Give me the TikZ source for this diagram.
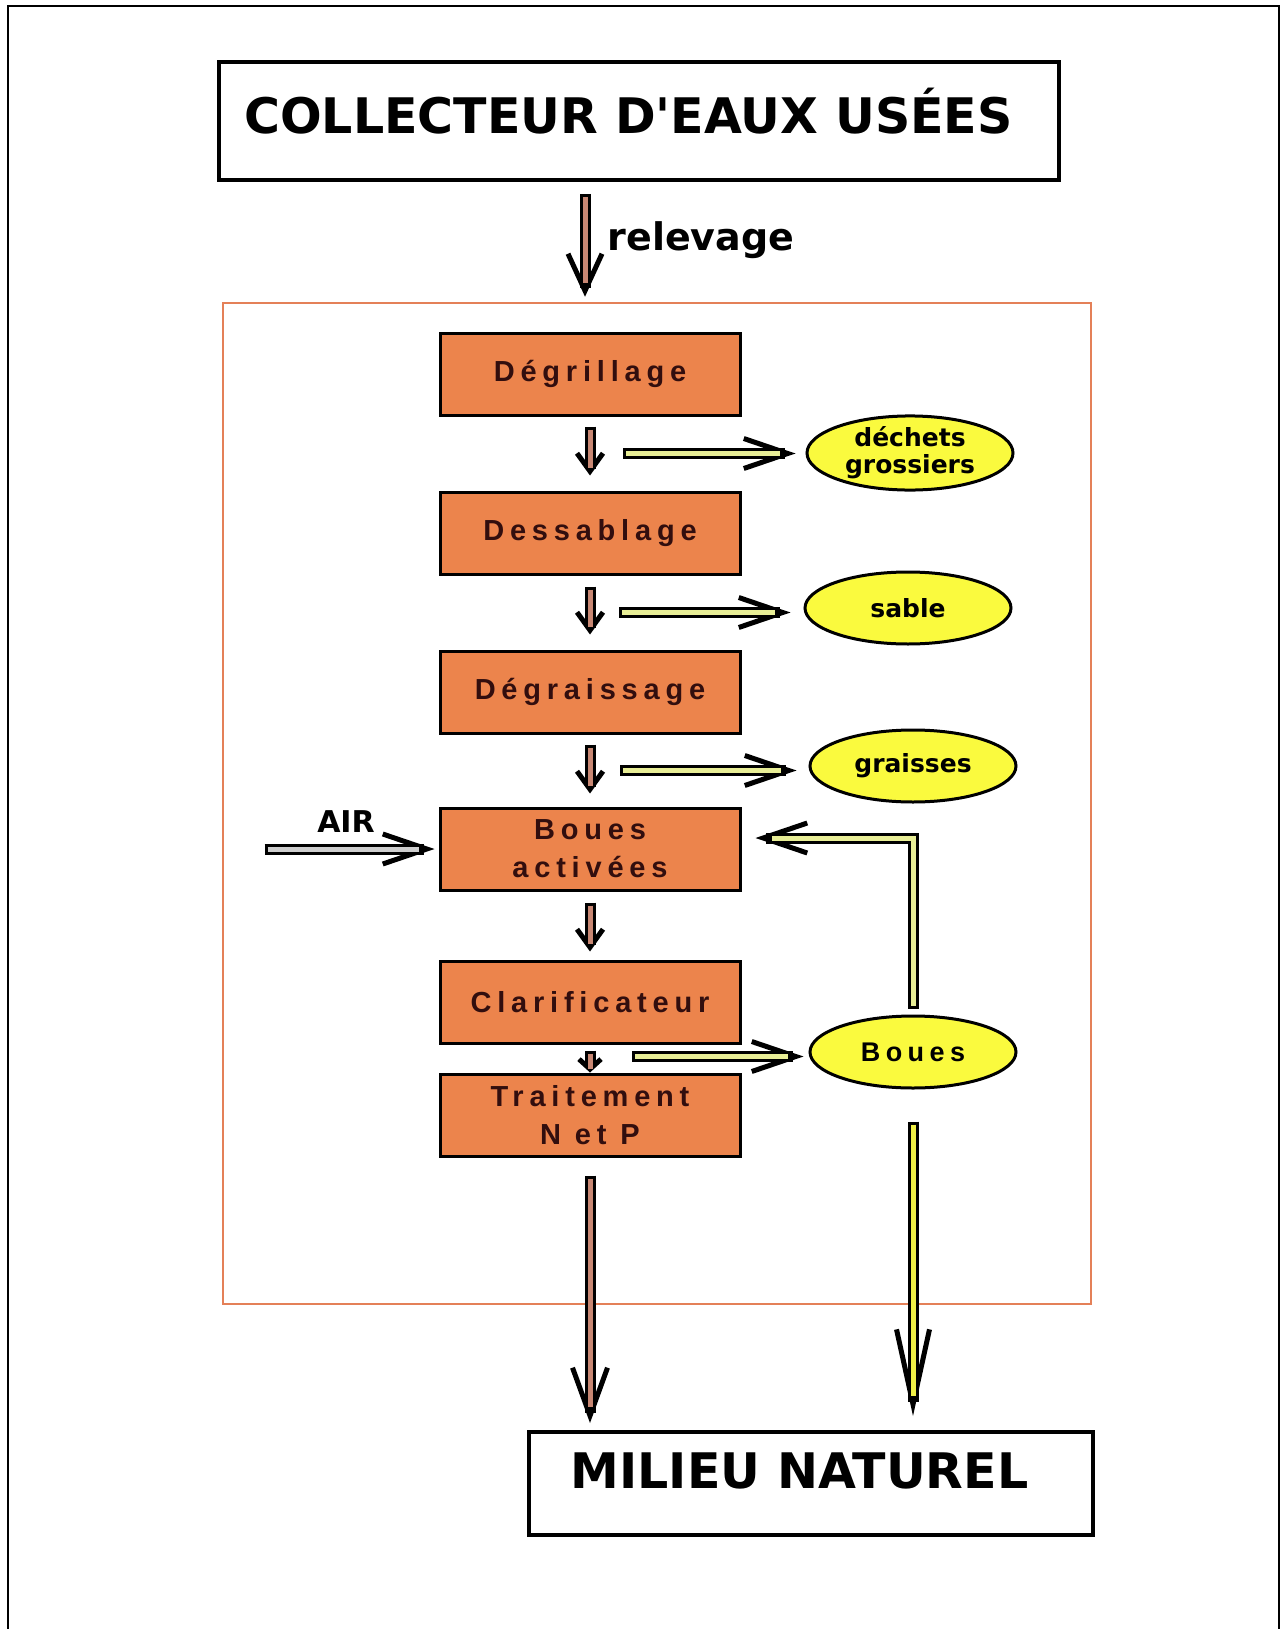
\documentclass[tikz,border=0pt]{standalone}
\usepackage{fontspec}
\setmainfont{Liberation Sans}
\newfontfamily\heavyfont{DejaVu Sans}
\newfontfamily\trackfont[LetterSpace=20]{Liberation Sans}
\usepackage{xcolor}
\usetikzlibrary{shapes.geometric, arrows.meta, positioning, calc}

\definecolor{stagefill}{RGB}{236,132,76}
\definecolor{stagetext}{RGB}{50,14,14}
\definecolor{framecol}{RGB}{228,128,88}
\definecolor{wastefill}{RGB}{250,250,62}
\definecolor{brownpipe}{RGB}{200,135,115}
\definecolor{yellowpipe}{RGB}{232,238,150}
\definecolor{brightpipe}{RGB}{240,240,70}
\definecolor{greypipe}{RGB}{205,205,205}

\begin{document}
\begin{tikzpicture}[
    x=1pt, y=-1pt,
    node distance=74pt,
    endbox/.style={rectangle, draw=black, line width=4pt, fill=white, font=\heavyfont\bfseries\fontsize{49}{50}\selectfont},
    stage/.style={rectangle, draw=black, line width=3pt, fill=stagefill, text=stagetext, minimum width=300pt, minimum height=82pt, align=center, font=\trackfont\bfseries\fontsize{29}{38}\selectfont},
    waste/.style={ellipse, draw=black, line width=3pt, fill=wastefill, minimum width=206pt, minimum height=72pt, inner sep=0pt, align=center, font=\heavyfont\bfseries\fontsize{25}{27}\selectfont},
    tag/.style={font=\heavyfont\bfseries\fontsize{#1}{#1}\selectfont},
    pipeline/.style n args={3}{draw=#1, line width=5pt, line join=miter, shorten <=3pt, shorten >=#3,
        preaction={draw=black, line width=11pt, line join=miter, shorten <=0pt, shorten >=0pt, -{Straight Barb[#2, line width=5pt]}}},
    pipe/.style={pipeline={#1}{length=44pt, width=30pt}{16pt}},
    stub/.style={pipeline={#1}{length=18pt, width=26pt}{8pt}}
]
\useasboundingbox (0,0) rectangle (1282,1629);

% Frames
\draw[line width=2pt] (8,1640) -- (8,6) -- (1279,6) -- (1279,1640);
\node (station) [rectangle, draw=framecol, line width=2.5pt, minimum width=868pt, minimum height=1001pt] at (657,803.5) {};

% Nodes
\node (collecteur) [endbox, minimum width=840pt, minimum height=118pt, text depth=20pt] at (639,121) {\hspace*{-21pt}COLLECTEUR D'EAUX USÉES};
\node (relevage) [tag=38] at (701,240) {relevage};
\node (deg) [stage] at (590,374) {Dégrillage};
\node (dess) [stage, below=of deg] {Dessablage};
\node (degr) [stage, below=of dess] {Dégraissage};
\node (act) [stage, below=72pt of degr] {Boues\\activées};
\node (clar) [stage, below=68pt of act] {Clarificateur};
\node (trait) [stage, below=28pt of clar] {Traitement\\N et P};
\node (dechets) [waste] at (910,453) {déchets\\grossiers};
\node (sable) [waste] at (908,608) {sable};
\node (graisses) [waste] at (913,766) {graisses};
\node (boues) [waste, font=\trackfont\bfseries\fontsize{27}{30}\selectfont] at (913,1052) {Boues};
\node (milieu) [endbox, minimum width=564pt, minimum height=103pt, text depth=25pt] at (811,1483.5) {\hspace*{-23pt}MILIEU NATUREL};
\node (air) [tag=30] at (346,822) {AIR};

% Side outputs
\coordinate (out1) at ($(deg.south)!0.5!(dess.north)+(33,0)$);
\coordinate (out2) at ($(dess.south)!0.5!(degr.north)+(29,0)$);
\coordinate (out3) at ($(degr.south)!0.5!(act.north)+(30,0)$);
\coordinate (out4) at ($(clar.south)!0.5!(trait.north)+(42,-2)$);

% Connections
\draw [pipeline={brownpipe}{length=37pt, width=34pt}{14pt}] ([xshift=-5pt, yshift=-12pt]collecteur.south -| deg.north) -- ([xshift=-5pt, yshift=5pt]station.north -| deg.north);
\draw [stub=brownpipe] ([yshift=-10pt]deg.south) -- ([yshift=15pt]dess.north);
\draw [stub=brownpipe] ([yshift=-11pt]dess.south) -- ([yshift=15pt]degr.north);
\draw [stub=brownpipe] ([yshift=-10pt]degr.south) -- ([yshift=13pt]act.north);
\draw [stub=brownpipe] ([yshift=-11pt]act.south) -- ([yshift=8pt]clar.north);
\draw [pipeline={brownpipe}{length=10pt, width=22pt}{4pt}] ([yshift=-6pt]clar.south) -- (trait.north);
\draw [pipe=yellowpipe] (out1) -- ($(out1 -| dechets.west)+(-10,0)$);
\draw [pipe=yellowpipe] (out2) -- ($(out2 -| sable.west)+(-13,0)$);
\draw [pipe=yellowpipe] (out3) -- ($(out3 -| graisses.west)+(-12,0)$);
\draw [pipe=yellowpipe] (out4) -- ($(out4 -| boues.west)+(-5,0)$);
\draw [pipe=greypipe] ($(act.west)+(-174,0)$) -- ($(act.west)+(-4,0)$);
\draw [pipe=yellowpipe] ([yshift=6pt]boues.north) |- ($(act.east)+(14,-11)$);
\draw [pipeline={brownpipe}{length=48pt, width=35pt}{16pt}] ([yshift=-18pt]trait.south) -- ([yshift=7pt]trait.south |- milieu.north);
\draw [pipeline={brightpipe}{length=75pt, width=33pt}{20pt}] ([yshift=-32pt]boues.south) -- ([yshift=14pt]boues.south |- milieu.north);

\end{tikzpicture}
\end{document}
